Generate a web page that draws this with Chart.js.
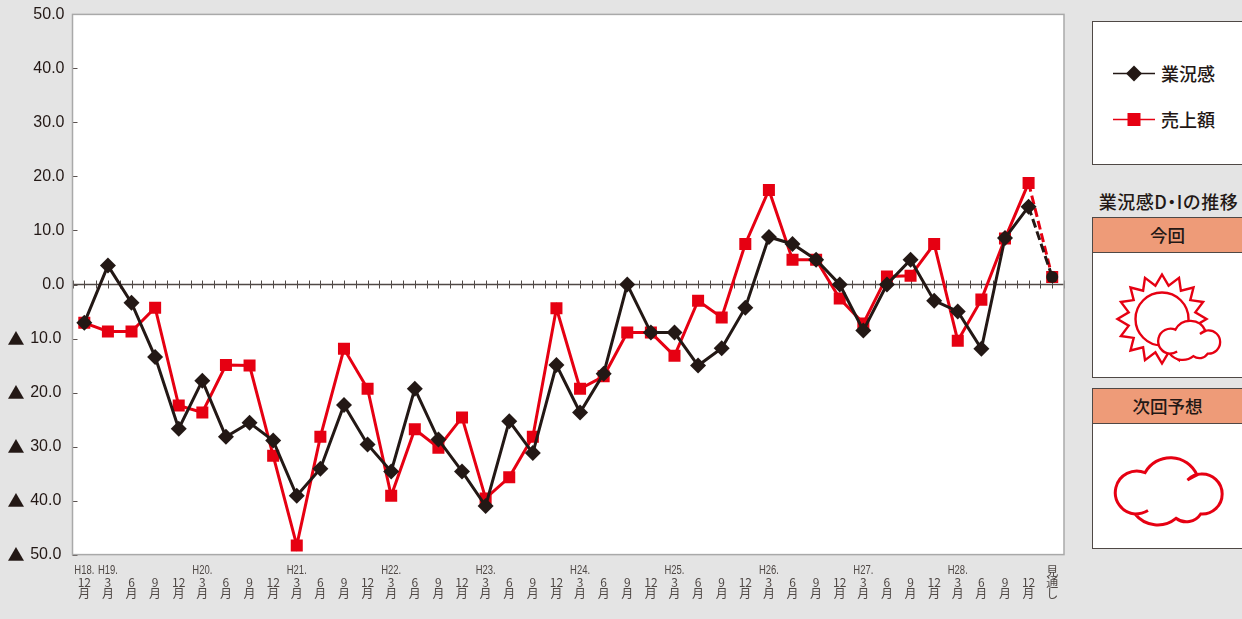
<!DOCTYPE html>
<html lang="ja">
<head>
<meta charset="utf-8">
<title>業況感D・Iの推移</title>
<script src="https://cdn.jsdelivr.net/npm/chart.js@4"></script>
<style>
  html, body { margin:0; padding:0; width:1242px; height:619px; overflow:hidden; background:#e4e4e4; }
  body { position:relative; font-family:"Noto Sans CJK JP","Noto Sans",sans-serif; color:#231815; }
  #chart { position:absolute; left:0; top:0; }
  .box { position:absolute; left:1092px; width:151px; box-sizing:border-box; background:#fff; border:1.5px solid #4f4845; }
  #legendBox { top:21px; height:144px; }
  .row { position:absolute; left:20px; display:flex; align-items:center; font-size:18px; font-weight:500; line-height:24px; }
  .row svg { margin-right:6px; }
  #title { position:absolute; left:1092px; width:153px; top:189px; text-align:center; font-size:18px; letter-spacing:.5px; line-height:24px; font-weight:500; white-space:nowrap; }
  #title span { font-feature-settings:"palt"; }
  .panel { height:161px; }
  .head { height:35px; line-height:34px; text-align:center; font-size:17.5px; font-weight:500; background:#ee9b78; border-bottom:1.5px solid #4f4845; box-sizing:border-box; }
  #icons { position:absolute; left:0; top:0; pointer-events:none; }
</style>
</head>
<body>
<canvas id="chart" width="1080" height="619"></canvas>

<div class="box" id="legendBox"></div>
<div id="title">業況感D<span>・</span>Iの推移</div>
<div class="box panel" style="top:217px"><div class="head">今回</div></div>
<div class="box panel" style="top:388px"><div class="head">次回予想</div></div>

<svg id="icons" width="1242" height="619" fill="none" stroke="#e60012" stroke-linejoin="miter">
  <defs>
    <path id="cloud" d="M1148 510.5 Q1142 514 1135 514 A21.5 21.5 0 1 1 1145 472.7 A29 29 0 0 1 1197 475 Q1193 477 1187.5 480 Q1194 474 1200.7 474 A20.05 20.05 0 1 1 1200.7 514 A17 17 0 0 1 1176 518.3 A29 29 0 0 1 1135 514"/>
  </defs>
  <polygon id="sunRays" stroke-width="2.4"/>
  <circle cx="1162" cy="319" r="26.5" stroke-width="2.4"/>
  <g transform="translate(511.3 55.5) scale(.58)">
    <use href="#cloud" fill="#fff" stroke-width="4"/>
  </g>
  <use href="#cloud" stroke-width="3"/>
</svg>

<script>
const categories = ["12,月","3,月","6,月","9,月","12,月","3,月","6,月","9,月","12,月","3,月","6,月","9,月","12,月","3,月","6,月","9,月","12,月","3,月","6,月","9,月","12,月","3,月","6,月","9,月","12,月","3,月","6,月","9,月","12,月","3,月","6,月","9,月","12,月","3,月","6,月","9,月","12,月","3,月","6,月","9,月","12,月","見,通,し"];
const eraLabels = ["H18.","H19.","","","","H20.","","","","H21.","","","","H22.","","","","H23.","","","","H24.","","","","H25.","","","","H26.","","","","H27.","","","","H28.","","","",""];
const businessDI = [-7.1,3.5,-3.4,-13.4,-26.7,-17.8,-28.2,-25.6,-28.9,-39.1,-34.1,-22.3,-29.6,-34.6,-19.3,-28.7,-34.6,-41,-25.3,-31.2,-14.9,-23.7,-16.5,0,-8.9,-8.9,-15,-11.8,-4.3,8.8,7.5,4.6,0,-8.5,0,4.6,-3,-5,-11.9,8.6,14.4,1.4];
const salesDI = [-7.1,-8.7,-8.7,-4.3,-22.4,-23.7,-14.9,-15,-31.7,-48.3,-28.2,-11.9,-19.3,-39.1,-26.8,-30.2,-24.6,-39.6,-35.7,-28.2,-4.4,-19.3,-17,-8.9,-8.9,-13.2,-3,-6.1,7.5,17.5,4.6,4.6,-2.6,-7.2,1.5,1.6,7.5,-10.4,-2.8,8.5,18.8,1.4];

const INK = "#231815", RED = "#e60012", FRAME = "#a9a9a9";
const last = categories.length - 1;
// the forecast point is joined with a dashed segment
const forecastDash = { borderDash: c => c.p1DataIndex === last ? [9, 4] : undefined };

// white plot, frame, inner ticks, zero axis and era row
const frame = {
  id: "frame",
  beforeDatasetsDraw(chart) {
    const { ctx, chartArea: a, scales: { x, y } } = chart;
    ctx.save();
    ctx.fillStyle = "#fff";
    ctx.fillRect(a.left, a.top, a.width, a.height);

    ctx.strokeStyle = "#5a5250";
    ctx.lineWidth = 1;
    y.ticks.forEach(t => {
      const py = Math.round(y.getPixelForValue(t.value)) + .5;
      ctx.beginPath(); ctx.moveTo(a.left, py); ctx.lineTo(a.left + 5, py); ctx.stroke();
    });

    const zero = y.getPixelForValue(0);
    ctx.strokeStyle = "#4f4845";
    ctx.lineWidth = 1.5;
    ctx.beginPath(); ctx.moveTo(a.left, zero); ctx.lineTo(a.right, zero); ctx.stroke();
    ctx.lineWidth = 1;
    const step = a.width / categories.length;
    for (let i = 0; i <= categories.length * 2; i++) {
      const px = Math.round(a.left + i * step / 2) + .5;
      ctx.beginPath(); ctx.moveTo(px, zero - 4); ctx.lineTo(px, zero + 4); ctx.stroke();
    }

    ctx.strokeStyle = FRAME;
    ctx.lineWidth = 1.5;
    ctx.strokeRect(a.left, a.top, a.width, a.height);
    ctx.restore();
  },
  afterDraw(chart) {
    const { ctx, scales: { x, y } } = chart;
    ctx.save();
    ctx.textAlign = "center";
    ctx.textBaseline = "middle";

    // triangle marks for negative values, larger than the digits' own font would give
    ctx.font = '17px "Noto Sans CJK JP"';
    ctx.fillStyle = INK;
    y.ticks.forEach(t => {
      if (t.value < 0) ctx.fillText("▲", 16, y.getPixelForValue(t.value));
    });

    ctx.font = '12px "Liberation Sans"';
    ctx.fillStyle = "#4f4845";
    eraLabels.forEach((era, i) => {
      if (era) ctx.fillText(era, x.getPixelForTick(i), 571, 20);
    });
    ctx.restore();
  }
};

const chart = new Chart(document.getElementById("chart"), {
  type: "line",
  data: {
    labels: categories,
    datasets: [
      { label: "業況感", data: businessDI, borderColor: INK, backgroundColor: INK, borderWidth: 3,
        pointStyle: c => c.dataIndex === last ? "circle" : "rectRot",
        pointRadius: c => c.dataIndex === last ? 6 : 8, pointBorderWidth: 0, tension: 0, segment: forecastDash },
      { label: "売上額", data: salesDI, borderColor: RED, backgroundColor: RED, borderWidth: 3,
        pointStyle: "rect", pointRadius: 8.5, pointBorderWidth: 0, tension: 0, segment: forecastDash }
    ]
  },
  options: {
    responsive: false,
    animation: false,
    layout: { padding: { top: 14.4, right: 16, left: 0, bottom: 0 } },
    plugins: { legend: { display: false }, tooltip: { enabled: false } },
    scales: {
      x: {
        offset: true,
        afterFit: s => { s.height = 64.4; },
        grid: { display: false },
        border: { display: false },
        ticks: {
          autoSkip: false, maxRotation: 0, minRotation: 0, padding: 3, color: "#4f4845",
          font: { family: '"Noto Sans CJK JP"', size: 12, lineHeight: .92 },
          // two-line months sit below the era row, the forecast label fills all three lines
          callback(v) {
            const parts = categories[v].split(",");
            return parts.length === 3 ? parts : ["", ...parts];
          }
        }
      },
      y: {
        min: -50, max: 50,
        afterFit: s => { s.width = 72.5; },
        grid: { display: false },
        border: { display: false },
        ticks: {
          stepSize: 10, padding: 0, color: INK,
          font: { family: '"Liberation Sans"', size: 16 },
          callback: v => v < 0 ? Math.abs(v).toFixed(1) + "\u2009" : v.toFixed(1)
        }
      }
    }
  },
  plugins: [frame]
});

// legend rows read their names and colours from the datasets
const swatches = [
  '<polygon points="21,2.5 29,10.5 21,18.5 13,10.5"/>',
  '<rect x="14.5" y="4" width="13" height="13"/>'
];
chart.data.datasets.forEach((ds, i) => {
  const row = document.createElement("div");
  row.className = "row";
  row.style.top = (39 + i * 46) + "px";
  row.innerHTML = '<svg width="42" height="21" fill="' + ds.borderColor + '">' +
    '<line x1="0" x2="42" y1="10.5" y2="10.5" stroke="' + ds.borderColor + '" stroke-width="1.5"/>' +
    swatches[i] + '</svg><span>' + ds.label + '</span>';
  document.getElementById("legendBox").appendChild(row);
});

// sun rays as a star outline
const rayPoints = [];
for (let i = 0; i < 32; i++) {
  const r = i % 2 ? 34 : 44.5, t = (i / 32) * 2 * Math.PI - Math.PI / 2;
  rayPoints.push((1162 + r * Math.cos(t)).toFixed(1) + "," + (319 + r * Math.sin(t)).toFixed(1));
}
document.getElementById("sunRays").setAttribute("points", rayPoints.join(" "));
</script>
</body>
</html>
